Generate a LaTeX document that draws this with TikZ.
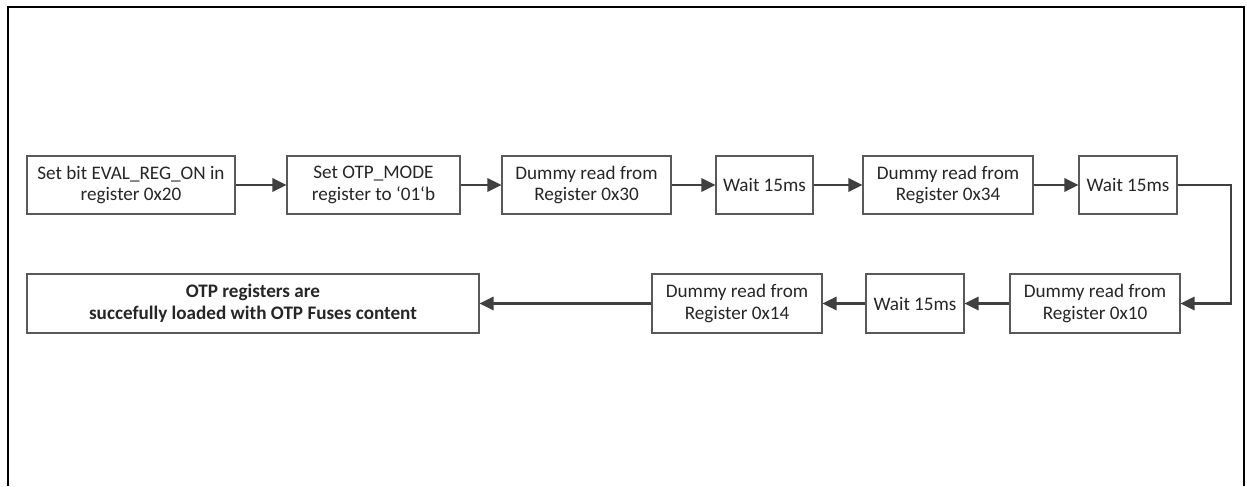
\documentclass[tikz,border=0pt]{standalone}
\usepackage{fontspec}
\setmainfont{Carlito}
\usetikzlibrary{arrows.meta}
\definecolor{flowgray}{HTML}{404040}

\begin{document}
\begin{tikzpicture}[
    font=\fontsize{10.9}{12.3}\selectfont,
    stepbox/.style={
        draw=black!65, line width=0.6pt, fill=white,
        align=center, inner sep=1pt,
        minimum height=1.16cm, text=black!85
    },
    flow/.style={draw=flowgray, line width=1.4pt,
        -{Triangle[length=8pt, width=7.5pt]}},
    frameline/.style={draw=black, line width=1.3pt}
]
\useasboundingbox (0,0) rectangle (24.94,9.72);

%% ── Rámec (bez spodnej hrany) ────────────────────────────────────
\draw[frameline] (0.16,0) -- (0.16,9.58) -- (24.88,9.58) -- (24.88,0);

%% ── Horný rad ────────────────────────────────────────────────────
\node[stepbox, minimum width=4.16cm] (s1) at (2.62,6.02)
    {Set bit EVAL\_REG\_ON in\\register 0x20};
\node[stepbox, minimum width=3.46cm] (s2) at (7.47,6.02)
    {Set OTP\_MODE\\register to ‘01‘b};
\node[stepbox, minimum width=3.38cm] (s3) at (11.73,6.02)
    {Dummy read from\\Register 0x30};
\node[stepbox, minimum width=1.94cm] (s4) at (15.29,6.02)
    {Wait 15ms};
\node[stepbox, minimum width=3.40cm] (s5) at (18.96,6.02)
    {Dummy read from\\Register 0x34};
\node[stepbox, minimum width=1.96cm] (s6) at (22.56,6.02)
    {Wait 15ms};

%% ── Dolný rad ────────────────────────────────────────────────────
\node[stepbox, minimum width=3.40cm, minimum height=1.18cm] (s7) at (21.90,3.65)
    {Dummy read from\\Register 0x10};
\node[stepbox, minimum width=1.96cm, minimum height=1.18cm] (s8) at (18.30,3.65)
    {Wait 15ms};
\node[stepbox, minimum width=3.40cm, minimum height=1.18cm] (s9) at (14.74,3.65)
    {Dummy read from\\Register 0x14};
\node[stepbox, minimum width=9.04cm, minimum height=1.18cm,
      font=\fontsize{10.9}{12.3}\selectfont\bfseries] (done) at (5.06,3.65)
    {OTP registers are\\succefully loaded with OTP Fuses content};

%% ── Šípky ────────────────────────────────────────────────────────
\coordinate (turn) at (24.62,6.02);
\draw[flow] (s1) -- (s2);
\draw[flow] (s2) -- (s3);
\draw[flow] (s3) -- (s4);
\draw[flow] (s4) -- (s5);
\draw[flow] (s5) -- (s6);
\draw[flow] (s6.east) -- (turn) |- (s7.east);
\draw[flow] (s7) -- (s8);
\draw[flow] (s8) -- (s9);
\draw[flow] (s9) -- (done);

\end{tikzpicture}
\end{document}
